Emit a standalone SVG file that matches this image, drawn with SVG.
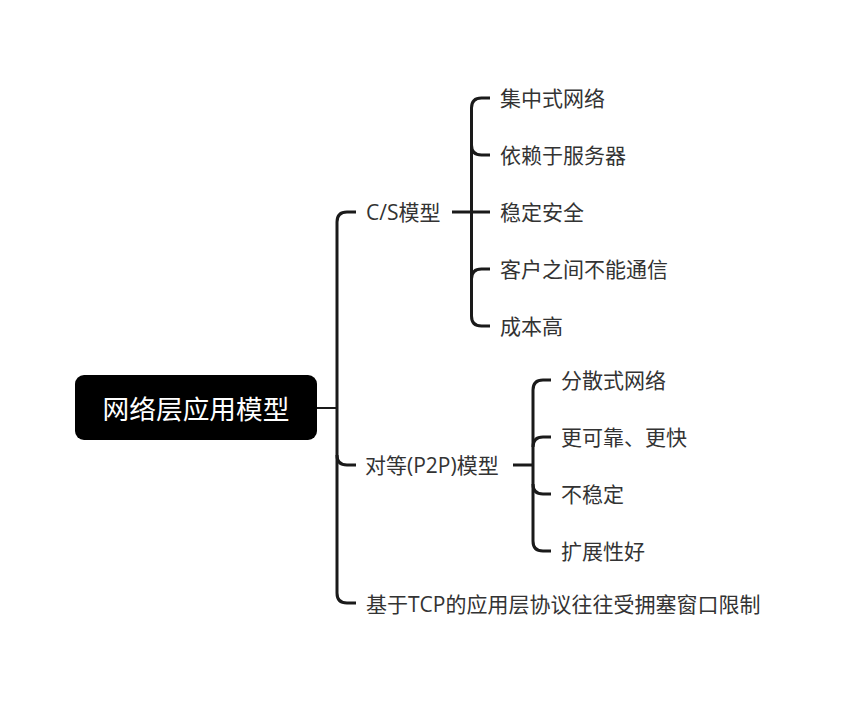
<svg xmlns="http://www.w3.org/2000/svg" width="847" height="702" viewBox="0 0 847 702">
<style>
.t{font-family:"Open Sans","Noto Sans CJK SC",sans-serif;font-size:21px;fill:#333;dominant-baseline:central}
.r{font-family:"Open Sans","Noto Sans CJK SC",sans-serif;font-size:26.7px;fill:#fff;dominant-baseline:central;text-anchor:middle}
.c{fill:none;stroke:#1a1a1a;stroke-width:3;stroke-linecap:butt}
</style>
<rect width="847" height="702" fill="#fff"/>
<g id="connectors">
<path class="c" style="stroke-width:2" d="M317,408 H337"/>
<path class="c" d="M356,212 H347 Q337,212 337,222 V593 Q337,603 347,603 H356"/>
<path class="c" d="M337,455 Q337,465 347,465 H356"/>
<path class="c" d="M452,212 H490"/>
<path class="c" d="M490,98 H481.5 Q471.5,98 471.5,108 V316 Q471.5,326 481.5,326 H490"/>
<path class="c" d="M471.5,145 Q471.5,155 481.5,155 H490"/>
<path class="c" d="M471.5,279 Q471.5,269 481.5,269 H490"/>
<path class="c" d="M513,465 H533"/>
<path class="c" d="M551,380 H543 Q533,380 533,390 V541 Q533,551 543,551 H551"/>
<path class="c" d="M533,447 Q533,437 543,437 H551"/>
<path class="c" d="M533,484 Q533,494 543,494 H551"/>
</g>
<g id="root">
<rect x="75" y="375" width="242" height="65" rx="9" fill="#000"/>
<text class="r" x="196" y="408">网络层应用模型</text>
</g>
<g id="cs"><text class="t" x="366" y="212">C/S模型</text></g>
<g id="cs1"><text class="t" x="500" y="98">集中式网络</text></g>
<g id="cs2"><text class="t" x="500" y="155">依赖于服务器</text></g>
<g id="cs3"><text class="t" x="500" y="212">稳定安全</text></g>
<g id="cs4"><text class="t" x="500" y="269">客户之间不能通信</text></g>
<g id="cs5"><text class="t" x="500" y="326">成本高</text></g>
<g id="p2p"><text class="t" x="365" y="465">对等(P2P)模型</text></g>
<g id="p1"><text class="t" x="561" y="380">分散式网络</text></g>
<g id="p2"><text class="t" x="561" y="437">更可靠、更快</text></g>
<g id="p3"><text class="t" x="561" y="494">不稳定</text></g>
<g id="p4"><text class="t" x="561" y="551">扩展性好</text></g>
<g id="tcp"><text class="t" x="366" y="604">基于TCP的应用层协议往往受拥塞窗口限制</text></g>
</svg>
